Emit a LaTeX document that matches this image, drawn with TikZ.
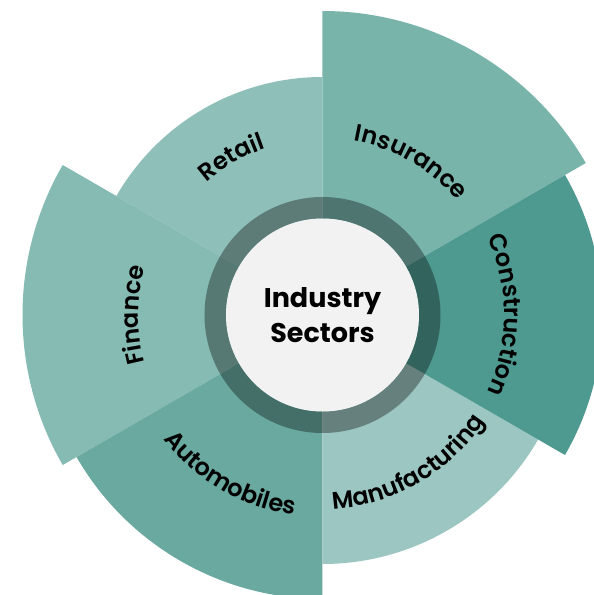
\documentclass[tikz,border=0pt]{standalone}
\usepackage{fontspec}
\setmainfont{Poppins}[BoldFont={Poppins Bold}]
\newfontfamily\semifont{Poppins SemiBold}
\usetikzlibrary{decorations.text}
\definecolor{insurancecol}{HTML}{79B4AB}
\definecolor{retailcol}{HTML}{8FBFB9}
\definecolor{financecol}{HTML}{86BBB3}
\definecolor{automobcol}{HTML}{69A9A0}
\definecolor{manufcol}{HTML}{9CC6C1}
\definecolor{constrcol}{HTML}{4E9990}
\definecolor{hubgray}{HTML}{F2F2F2}
\tikzstyle{ringshade}=[fill=black, fill opacity=0.35, even odd rule]
\tikzstyle{hub}=[circle, fill=hubgray, minimum size=193pt, inner sep=0pt, align=center, font=\bfseries\fontsize{27}{35}\selectfont]
\newcommand{\labelfont}{\semifont\fontsize{24}{24}\selectfont}
\newcommand{\drawsector}[4]{
\fill[#1] (0,0) -- (#2:#4pt) arc[start angle=#2, end angle=#3, radius=#4pt] -- cycle;
}
\newcommand{\drawlabel}[4]{
\path[decorate, decoration={text along path, text={|\labelfont|#1}, text align=center}]
  (#2:#4pt) arc[start angle=#2, end angle=#3, radius=#4pt];
}

\begin{document}
\begin{tikzpicture}
\useasboundingbox (-322.5pt,-280pt) rectangle (271.5pt,315pt);
\clip (-322.5pt,-280pt) rectangle (271.5pt,315pt);
\fill[white] (-322.5pt,-280pt) rectangle (271.5pt,315pt);
% sectors: colour, start, end, radius
\drawsector{insurancecol}{30}{90}{304}
\drawsector{retailcol}{90}{150}{238}
\drawsector{financecol}{150}{210}{300}
\drawsector{automobcol}{210}{270}{284}
\drawsector{manufcol}{270}{330}{249}
\drawsector{constrcol}{-30}{30}{280}
% dark ring round the hub
\fill[ringshade] (0,0) circle (118pt) circle (96.5pt);
\node[hub] (hub) at (0,0) {Industry\\Sectors};
% labels along arcs: clockwise on top/sides, counter-clockwise below
\drawlabel{Retail}{150}{90}{176}
\drawlabel{Insurance}{90}{30}{177}
\drawlabel{Construction}{30}{-30}{182}
\drawlabel{Finance}{210}{150}{184}
\drawlabel{Automobiles}{210}{270}{202}
\drawlabel{Manufacturing}{270}{330}{194}
\end{tikzpicture}
\end{document}
